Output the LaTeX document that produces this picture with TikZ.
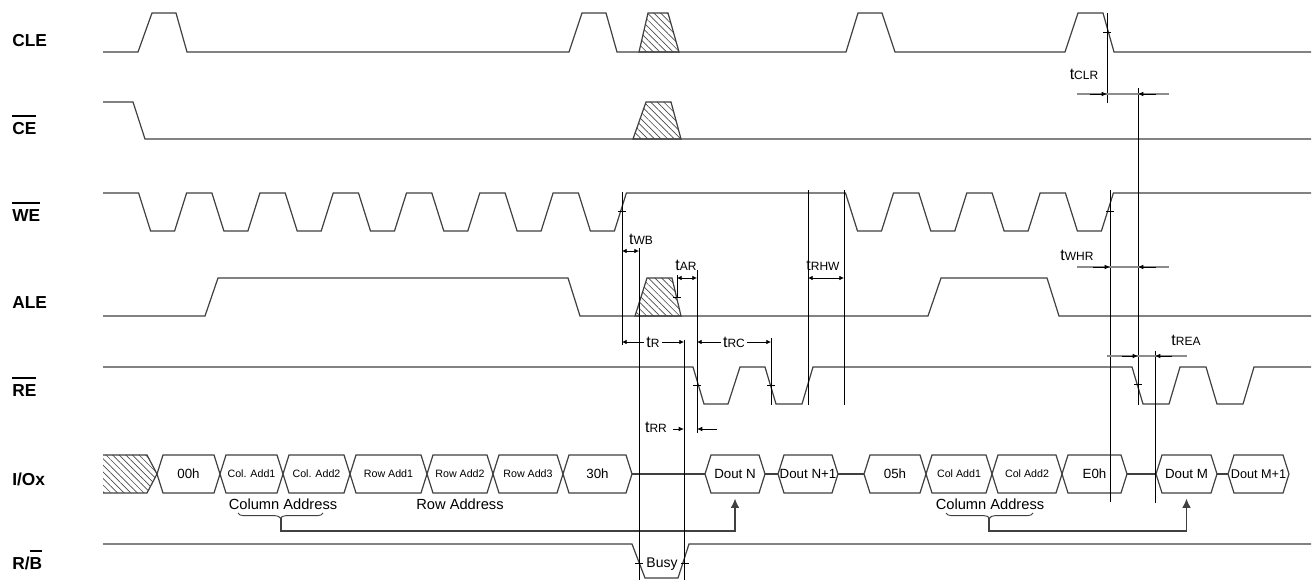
\documentclass[tikz,border=0pt]{standalone}
\usepackage{fontspec}
\setmainfont{Liberation Sans}
\usetikzlibrary{arrows.meta,patterns.meta,decorations.pathreplacing}

\newcommand{\ovl}[1]{\vbox{\hrule height 1.3pt\kern 4.5pt\hbox{#1}}}
\newcommand{\tname}[1]{{\fontsize{12}{14}\selectfont t}{\fontsize{9}{11}\selectfont #1}}
\newcommand{\busseg}[4]{%
  \draw[sig] (#2,474) -- (#2+6,455) -- (#3-6,455) -- (#3,474) -- (#3-6,493) -- (#2+6,493) -- cycle;
  \node[bustext] (#1) at ({(#2+#3)/2},474) {#4};}

\begin{document}
\begin{tikzpicture}
  [x=0.75pt,y=-0.75pt,
   sig/.style={line width=0.9pt,draw=black!75},
   hatch/.style={pattern={Lines[angle=-45,distance=3.5pt,line width=0.5pt]},pattern color=black!70},
   tl/.style={line width=0.6pt,black},
   gl/.style={line width=0.9pt,black!45},
   tarr/.style={line width=0.6pt,-{Latex[length=4pt,width=3.5pt]}},
   both/.style={line width=0.6pt,{Latex[length=3.5pt,width=3.5pt]}-{Latex[length=3.5pt,width=3.5pt]}},
   conn/.style={line width=0.9pt,draw=black!75,-{Latex[length=7pt,width=6.5pt]},shorten >=4pt},
   sname/.style={anchor=base west,inner sep=0pt,font=\fontsize{13}{15}\selectfont\bfseries},
   bustext/.style={inner sep=0pt,minimum height=28.5pt},
   tlab/.style={inner sep=0pt}]
  \fill[white] (0,0) rectangle (1314,580);
  \useasboundingbox (0,0) rectangle (1314,580);

  % signal names
  \node[sname] (cle) at (12,47)  {CLE};
  \node[sname] (ce)  at (12,135) {\ovl{CE}};
  \node[sname] (we)  at (12,222) {\ovl{WE}};
  \node[sname] (ale) at (12,309) {ALE};
  \node[sname] (re)  at (12,397) {\ovl{RE}};
  \node[sname] (io)  at (12,486) {I/Ox};
  \node[sname] (rb)  at (12,570) {R/\ovl{B}};

  % CLE
  \draw[sig] (103,52) -- (138,52) -- (152,13) -- (176,13) -- (187,52) -- (569,52) -- (582,13) -- (606,13) -- (617,52)
    -- (846,52) -- (858,13) -- (882,13) -- (895,52) -- (1065,52) -- (1078,13) -- (1103,13) -- (1114,52) -- (1311,52);
  \draw[sig,hatch] (639,52) -- (648,13) -- (668,13) -- (679,52) -- cycle;

  % CE
  \draw[sig] (103,102) -- (133,102) -- (145,139) -- (1311,139);
  \draw[sig,hatch] (633,139) -- (646,102) -- (671,102) -- (681,139) -- cycle;

  % WE
  \draw[sig] (103,193)
    \foreach \k in {0,...,6} { -- ({138.6+73.3*\k},193) -- ({150.6+73.3*\k},231) -- ({174.6+73.3*\k},231) -- ({186.6+73.3*\k},193) }
    \foreach \k in {0,...,3} { -- ({845.5+73.3*\k},193) -- ({857.5+73.3*\k},231) -- ({881.5+73.3*\k},231) -- ({893.5+73.3*\k},193) }
    -- (1311,193);

  % ALE
  \draw[sig] (103,316) -- (205,316) -- (218,278) -- (568,278) -- (580,316) -- (928,316) -- (941,278) -- (1047,278) -- (1059,316) -- (1311,316);
  \draw[sig,hatch] (635,316) -- (647,278) -- (672,278) -- (681,316) -- cycle;

  % RE
  \draw[sig] (103,367) -- (693,367) -- (704,404) -- (728,404) -- (740,367) -- (765,367) -- (776,404) -- (802,404) -- (813,367)
    -- (1132,367) -- (1143,404) -- (1169,404) -- (1180,367) -- (1206,367) -- (1217,404) -- (1243,404) -- (1254,367) -- (1311,367);

  % I/Ox
  \fill[hatch] (103,455) -- (147,455) -- (157,474) -- (147,493) -- (103,493) -- cycle;
  \draw[sig] (103,455) -- (147,455) -- (157,474) -- (147,493) -- (103,493);
  \busseg{b00}{157}{220}{\fontsize{10}{12}\selectfont 00h}
  \busseg{ca1}{220}{283}{\fontsize{8}{10}\selectfont Col. Add1}
  \busseg{ca2}{283}{350}{\fontsize{8}{10}\selectfont Col. Add2}
  \busseg{ra1}{350}{427}{\fontsize{8}{10}\selectfont Row Add1}
  \busseg{ra2}{427}{493}{\fontsize{8}{10}\selectfont Row Add2}
  \busseg{ra3}{493}{563}{\fontsize{8}{10}\selectfont Row Add3}
  \busseg{b30}{563}{632}{\fontsize{10}{12}\selectfont 30h}
  \busseg{doutN}{705}{765}{\fontsize{10}{12}\selectfont Dout N}
  \busseg{doutN1}{778}{838}{\fontsize{10}{12}\selectfont Dout N+1}
  \busseg{b05}{864}{926}{\fontsize{10}{12}\selectfont 05h}
  \busseg{cb1}{926}{992}{\fontsize{8}{10}\selectfont Col Add1}
  \busseg{cb2}{992}{1062}{\fontsize{8}{10}\selectfont Col Add2}
  \busseg{bE0}{1062}{1127}{\fontsize{10}{12}\selectfont E0h}
  \busseg{doutM}{1156}{1217}{\fontsize{10}{12}\selectfont Dout M}
  \busseg{doutM1}{1228}{1289}{\fontsize{9.5}{12}\selectfont Dout M+1}
  \draw[sig] (632,474) -- (705,474);
  \draw[sig] (765,474) -- (778,474);
  \draw[sig] (838,474) -- (864,474);
  \draw[sig] (1127,474) -- (1156,474);
  \draw[sig] (1217,474) -- (1228,474);

  % address groups
  \node[font=\fontsize{11}{13}\selectfont] (colA) at (283,504) {Column Address};
  \node[font=\fontsize{11}{13}\selectfont] (rowA) at (460,504) {Row Address};
  \node[font=\fontsize{11}{13}\selectfont] (colB) at (990,504) {Column Address};
  \draw[sig,line width=0.7pt,decorate,decoration={brace,mirror,amplitude=4pt}] (238,513) -- (323,513);
  \draw[sig,line width=0.7pt,decorate,decoration={brace,mirror,amplitude=4pt}] (946,513) -- (1033,513);
  \coordinate (brA) at (281,518);
  \coordinate (brB) at (989,518);
  \draw[conn] (brA) -- ++(0,13) -| (doutN.south);
  \draw[conn] (brB) -- ++(0,13) -| (doutM.south);

  % R/B
  \draw[sig] (103,544) -- (632,544) -- (645,578) -- (678,578) -- (689,544) -- (1311,544);
  \node[font=\fontsize{10.5}{12}\selectfont] (busy) at (662,564) {Busy};

  % timing lines
  \draw[tl] (622,192) -- (622,345);
  \draw[tl] (639,248) -- (639,580);
  \draw[tl] (677,275) -- (677,297);
  \draw[tl] (697,270) -- (697,433);
  \draw[tl] (684,340) -- (684,580);
  \draw[tl] (771,338) -- (771,405);
  \draw[tl] (808,190) -- (808,405);
  \draw[tl] (844,190) -- (844,405);
  \draw[tl] (1107,13) -- (1107,103);
  \draw[tl] (1110,190) -- (1110,502);
  \draw[tl] (1138,88) -- (1138,405);
  \draw[tl] (1155,351) -- (1155,503);

  % ticks
  \foreach \x/\y in {1107/32,622/211,1110/211,677/297,697/385,771/385,1138/384,639/563,685/563}
    \draw[tl] (\x-4,\y) -- (\x+4,\y);

  % timing parameters
  \draw[both] (622,251) -- (639,251);
  \node[tlab] (twb) at (641,239) {\tname{WB}};
  \draw[both] (677,278) -- (697,278);
  \node[tlab] (tar) at (686,265) {\tname{AR}};
  \draw[both] (808,278) -- (844,278);
  \node[tlab] (trhw) at (823,265) {\tname{RHW}};
  \draw[both] (622,342) -- node[fill=white,inner sep=1.5pt] (tr) {\tname{R}} (684,342);
  \draw[both] (697,342) -- node[fill=white,inner sep=1.5pt] (trc) {\tname{RC}} (771,342);
  \node[tlab] (trr) at (656,427) {\tname{RR}};
  \draw[tarr] (673,429) -- (684,429);
  \draw[tarr] (717,429) -- (697,429);

  \node[tlab] (tclr) at (1084,74) {\tname{CLR}};
  \draw[gl] (1077,94) -- (1169,94);
  \draw[tarr] (1090,94) -- (1107,94);
  \draw[tarr] (1156,94) -- (1138,94);

  \node[tlab] (twhr) at (1077,255) {\tname{WHR}};
  \draw[gl] (1077,267) -- (1169,267);
  \draw[tarr] (1093,267) -- (1110,267);
  \draw[tarr] (1156,267) -- (1138,267);

  \node[tlab] (trea) at (1186,340) {\tname{REA}};
  \draw[gl] (1107,356) -- (1187,356);
  \draw[tarr] (1122,356) -- (1138,356);
  \draw[tarr] (1172,356) -- (1155,356);
\end{tikzpicture}
\end{document}
